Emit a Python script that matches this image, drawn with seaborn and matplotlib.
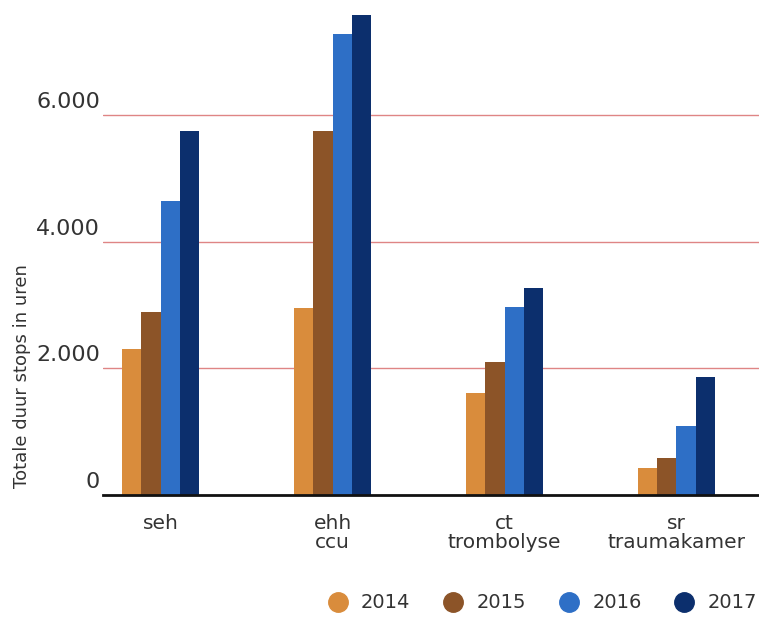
import matplotlib
matplotlib.use("Agg")
import matplotlib.pyplot as plt
from matplotlib.lines import Line2D
from matplotlib.transforms import ScaledTranslation
import pandas as pd
import seaborn as sns

###### data
afdelingen = ["seh", "ehh\nccu", "ct\ntrombolyse", "sr\ntraumakamer"]
jaren = ["2014", "2015", "2016", "2017"]
uren_2014 = [2300, 2950, 1610, 430]
uren_2015 = [2890, 5750, 2100, 590]
uren_2016 = [4650, 7280, 2970, 1090]
uren_2017 = [5750, 7580, 3270, 1860]
kleuren = ["#d98c3c", "#8c5428", "#2e6fc6", "#0c2f6d"]
yticks = [0, 2000, 4000, 6000]
ytick_labels = ["0", "2.000", "4.000", "6.000"]

df = pd.DataFrame({
    "afdeling": afdelingen * 4,
    "jaar": sum([[j] * 4 for j in jaren], []),
    "uren": uren_2014 + uren_2015 + uren_2016 + uren_2017,
})

###### plot
sns.set_style("white")
plt.rcParams["font.family"] = ["DejaVu Sans"]

fig = plt.figure(figsize=(7.59, 6.17), dpi=100)
ax = fig.add_axes([103 / 759, 122 / 617, 1 - 103 / 759, (495 - 2) / 617])

sns.barplot(data=df, x="afdeling", y="uren", hue="jaar", palette=kleuren,
            width=0.45, gap=0, saturation=1, ax=ax, legend=False,
            linewidth=0, edgecolor="none")

ax.set_xlim(-0.335, 3.48)
ax.set_ylim(0, 7790)

# rode gridlijnen achter de staven
for v in yticks[1:]:
    ax.axhline(v, color="#df8585", lw=1.0, zorder=0)

for s in ["top", "right", "left"]:
    ax.spines[s].set_visible(False)
ax.spines["bottom"].set_color("#111111")
ax.spines["bottom"].set_linewidth(2)

ax.set_yticks(yticks)
ax.set_yticklabels(ytick_labels, fontsize=16, color="#333333")
ax.tick_params(axis="y", length=0, pad=2)
for lab in ax.get_yticklabels():
    lab.set_transform(lab.get_transform() + ScaledTranslation(0, 15 / 100, fig.dpi_scale_trans))

ax.tick_params(axis="x", length=0, pad=14, labelsize=14.5, labelcolor="#333333")
for lab in ax.get_xticklabels():
    lab.set_linespacing(0.95)
ax.set_xlabel("")
ax.set_ylabel("")

fig.text(22 / 759, 1 - 376 / 617, "Totale duur stops in uren", rotation=90,
         ha="center", va="center", fontsize=13, color="#333333")

handles = [Line2D([0], [0], marker="o", color="none", markerfacecolor=c,
                  markeredgecolor=c, markersize=14) for c in kleuren]
fig.legend(handles, jaren, loc="center right", bbox_to_anchor=(757 / 759, 1 - 603 / 617),
           ncol=4, frameon=False, fontsize=14, handletextpad=0.6, borderpad=0,
           borderaxespad=0, columnspacing=1.6, handlelength=1.2, labelcolor="#333333")

fig.savefig("out.png", dpi=100)
